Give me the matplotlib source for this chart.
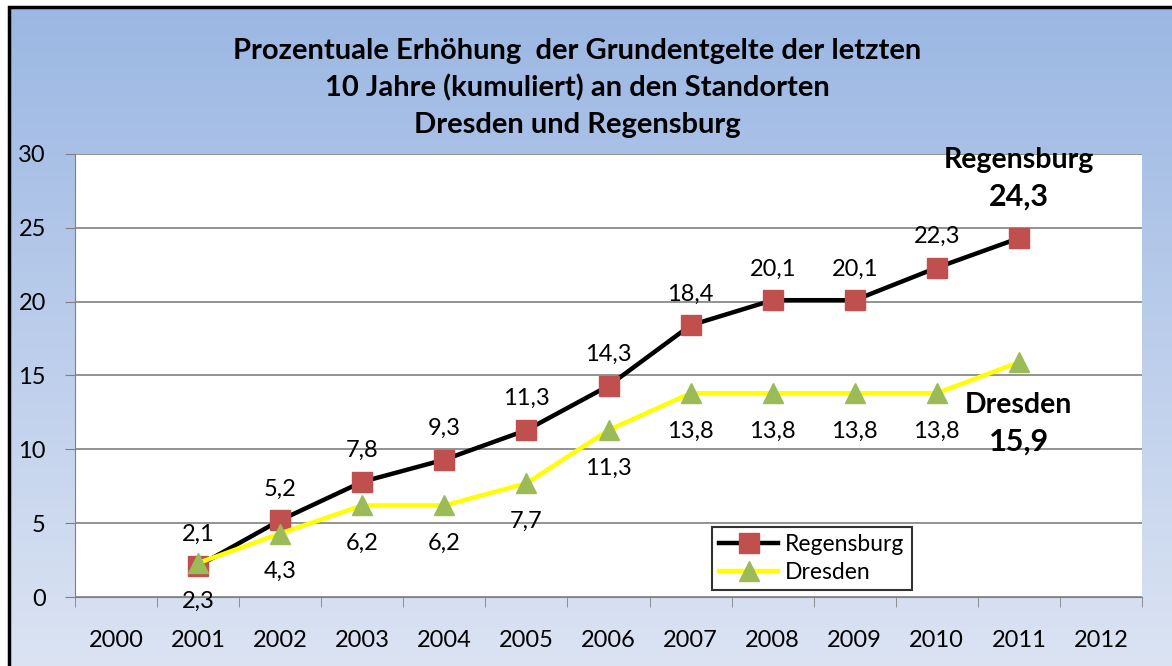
import numpy as np
import matplotlib.pyplot as plt
from matplotlib.patches import Rectangle
from matplotlib.colors import LinearSegmentedColormap

plt.rcParams['font.family'] = ['Lato', 'DejaVu Sans']

years = ['2000', '2001', '2002', '2003', '2004', '2005', '2006',
         '2007', '2008', '2009', '2010', '2011', '2012']
data_years = years[1:12]
regensburg = [2.1, 5.2, 7.8, 9.3, 11.3, 14.3, 18.4, 20.1, 20.1, 22.3, 24.3]
dresden = [2.3, 4.3, 6.2, 6.2, 7.7, 11.3, 13.8, 13.8, 13.8, 13.8, 15.9]

title = ('Prozentuale Erhöhung  der Grundentgelte der letzten\n'
         '10 Jahre (kumuliert) an den Standorten\n'
         'Dresden und Regensburg')

def fmt(v):
    return f'{v:.1f}'.replace('.', ',')

fig = plt.figure(figsize=(11.72, 6.66), dpi=100)
fig.patch.set_facecolor('white')

# gradient background
bg = fig.add_axes([0, 0, 1, 1], zorder=0)
cmap = LinearSegmentedColormap.from_list('bg', ['#9bb7e3', '#dce4f3'])
grad = np.linspace(0, 1, 256).reshape(-1, 1)
bg.imshow(grad, aspect='auto', cmap=cmap, extent=[8 / 1172, 1.01, -0.01, 1 - 6 / 666],
          transform=bg.transAxes)
bg.set_xlim(0, 1)
bg.set_ylim(0, 1)
bg.add_patch(Rectangle((8.5 / 1172, -0.05), 1.1, 1 - 6.5 / 666 + 0.05, fill=False,
                       edgecolor='black', linewidth=2.5, transform=bg.transAxes))
bg.axis('off')

bg.text(0.4927, 1 - 88 / 666, title, ha='center', va='center', fontsize=21,
        fontweight='bold', linespacing=1.47, transform=bg.transAxes)

ax = fig.add_axes([75 / 1172, 1 - 597 / 666, (1142 - 75) / 1172, (597 - 154) / 666], zorder=1)
ax.set_facecolor('white')
x = np.arange(len(years))
xd = np.array([years.index(y) for y in data_years])

ax.plot(xd, regensburg, color='black', linewidth=3.2, marker='s', markersize=14.5,
        markerfacecolor='#c0504d', markeredgecolor='#c0504d', label='Regensburg', zorder=3)
ax.plot(xd, dresden, color='#ffff00', linewidth=3.2, marker='^', markersize=15,
        markerfacecolor='#9bbb59', markeredgecolor='#9bbb59', label='Dresden', zorder=3)

for xi, v in zip(xd[:-1], regensburg[:-1]):
    ax.annotate(fmt(v), (xi, v), xytext=(0, 15), textcoords='offset points',
                ha='center', va='bottom', fontsize=17)
for xi, v in zip(xd[:-1], dresden[:-1]):
    ax.annotate(fmt(v), (xi, v), xytext=(0, -20), textcoords='offset points',
                ha='center', va='top', fontsize=17)

ax.text(xd[-1], 29.6, 'Regensburg', ha='center', va='center', fontsize=20.5, fontweight='bold')
ax.text(xd[-1], 27.1, fmt(regensburg[-1]), ha='center', va='center', fontsize=22, fontweight='bold')
ax.text(xd[-1], 13.0, 'Dresden', ha='center', va='center', fontsize=20.5, fontweight='bold')
ax.text(xd[-1], 10.5, fmt(dresden[-1]), ha='center', va='center', fontsize=22, fontweight='bold')

ax.set_xlim(-0.5, 12.5)
ax.set_ylim(0, 30)
ax.set_yticks(np.arange(0, 31, 5))
ax.set_xticks(x)
ax.set_xticklabels(years)
ax.set_xticks(np.arange(-0.5, 12.6, 1), minor=True)
ax.tick_params(axis='x', which='major', length=0, pad=24, labelsize=17)
ax.tick_params(axis='x', which='minor', length=7, color='#808080', direction='out')
ax.tick_params(axis='y', length=7, color='#808080', pad=14, labelsize=17)
ax.grid(axis='y', color='#808080', linewidth=1.2)
ax.set_axisbelow(True)
for s in ['top', 'right']:
    ax.spines[s].set_visible(False)
for s in ['left', 'bottom']:
    ax.spines[s].set_color('#808080')

leg = ax.legend(loc='lower left', bbox_to_anchor=((712 - 75) / 1067, (597 - 590) / 443),
                fontsize=16.5, frameon=True, fancybox=False, handlelength=2.6,
                borderpad=0.3, labelspacing=0.3, handletextpad=0.3, borderaxespad=0)
leg.get_frame().set_edgecolor('black')
leg.get_frame().set_linewidth(1.5)

fig.savefig('out.png', dpi=100)
